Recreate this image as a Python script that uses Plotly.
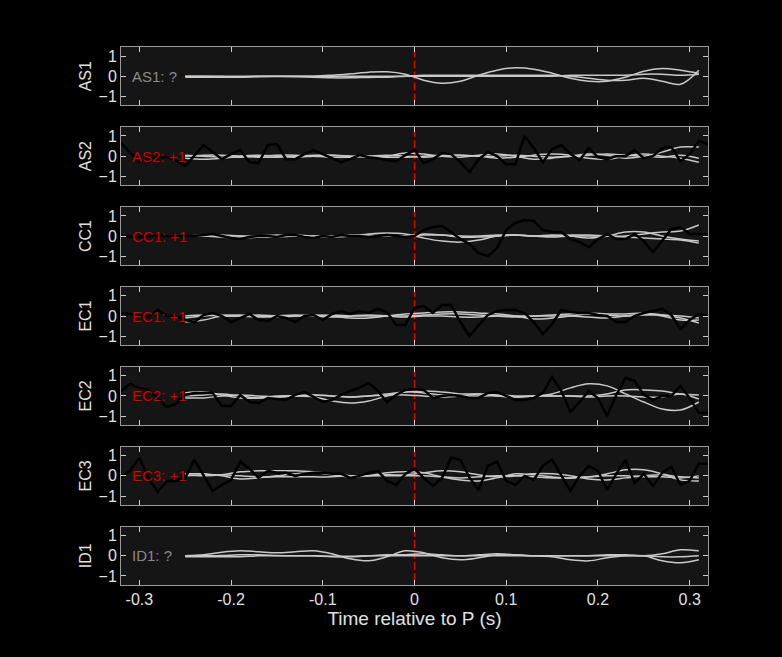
import plotly.graph_objects as go
from plotly.subplots import make_subplots

stations = ["AS1", "AS2", "CC1", "EC1", "EC2", "EC3", "ID1"]
labels = ["AS1: ?", "AS2: +1", "CC1: +1", "EC1: +1", "EC2: +1", "EC3: +1", "ID1: ?"]
label_colors = ["#8a8a8a", "#cc0000", "#cc0000", "#cc0000", "#cc0000", "#cc0000", "#8a8a8a"]

# black (reference) traces, sampled every 0.01 s from -0.32 to 0.32
black_t = [round(-0.32 + 0.01 * i, 2) for i in range(65)]
black = {
    "AS2": [0.65, 0.2, -0.3, -0.15, -0.05, -0.05, -0.2, -0.5, 0.05, 0.55, 0.2, -0.15, 0.1, 0.3, -0.3, -0.35,
            0.55, 0.6, -0.15, -0.15, 0.1, 0.3, 0.1, -0.1, -0.3, -0.15, 0.05, -0.05, -0.1, -0.2, -0.25, 0.05,
            0.3, -0.35, -0.15, 0.15, 0.1, -0.3, -0.8, -0.15, 0.2, 0.0, -0.4, -0.4, 1.0, 0.4, -0.3, 0.35,
            0.55, 0.1, -0.2, 0.4, -0.05, -0.15, 0.0, 0.0, 0.3, -0.1, 0.0, 0.4, 0.45, -0.25, 0.1, 0.75, 0.6],
    "CC1": [0.0, -0.02, -0.05, 0.0, 0.05, 0.0, -0.05, 0.0, 0.0, 0.05, 0.1, 0.0, -0.1, -0.15, -0.05, 0.0,
            0.0, -0.05, 0.05, 0.05, -0.05, -0.1, 0.0, -0.05, 0.05, 0.0, 0.0, -0.05, 0.0, 0.05, 0.0, -0.05,
            0.0, 0.3, 0.45, 0.5, 0.2, -0.15, -0.4, -0.85, -1.0, -0.6, 0.3, 0.65, 0.8, 0.75, 0.3, 0.2,
            0.2, -0.15, -0.3, -0.55, -0.15, 0.1, -0.15, -0.15, 0.1, -0.25, -0.8, -0.25, 0.35, 0.45, 0.1, 0.1, 0.1],
    "EC1": [0.15, 0.1, 0.0, -0.05, 0.3, 0.0, 0.0, -0.2, -0.3, 0.05, 0.15, 0.0, -0.3, -0.1, 0.1, -0.2,
            -0.25, 0.0, -0.1, -0.3, 0.0, 0.05, -0.2, 0.1, 0.25, 0.1, 0.25, 0.15, 0.35, 0.2, -0.45, -0.45,
            0.4, 0.5, 0.15, 0.55, 0.55, -0.3, -1.0, -0.45, 0.05, 0.25, 0.3, 0.3, 0.15, -0.3, -0.9, -0.4,
            0.3, 0.2, 0.15, 0.15, 0.05, 0.0, -0.3, -0.3, 0.0, 0.15, 0.25, 0.35, 0.05, -0.65, -0.2, 0.1, 0.0],
    "EC2": [0.25, 0.6, 0.4, 0.3, -0.1, -0.55, -0.4, 0.05, 0.15, 0.15, 0.15, -0.5, -0.5, 0.05, -0.3, -0.35,
            -0.1, -0.15, -0.2, 0.05, 0.2, -0.05, -0.3, -0.2, 0.05, 0.25, 0.4, 0.65, 0.25, -0.3, 0.05, 0.3,
            0.35, 0.3, -0.1, 0.0, 0.05, 0.0, -0.1, -0.1, 0.15, 0.2, 0.0, -0.2, -0.2, -0.1, 0.15, 0.95,
            0.25, -0.8, -0.3, 0.25, -0.1, -1.0, 0.05, 0.9, 0.75, 0.05, -0.2, 0.0, 0.0, 0.5, -0.1, -0.85, -0.85],
    "EC3": [-0.05, 0.25, 0.9, -0.1, -0.8, -0.25, -0.25, -0.1, 0.8, 0.0, -0.75, -0.45, -0.2, 0.7, 0.35, -0.1,
            0.25, 0.15, 0.15, 0.0, 0.1, 0.15, 0.15, 0.1, 0.1, -0.1, 0.0, 0.15, 0.25, -0.25, -0.45, 0.1,
            0.35, -0.1, -0.5, -0.1, 0.9, 0.8, -0.1, -0.7, 0.5, 0.7, -0.25, -0.45, 0.0, -0.2, 0.5, 0.8,
            0.0, -0.75, 0.0, 0.5, 0.25, -0.7, 0.1, 0.8, -0.35, 0.1, -0.5, 0.15, 0.45, -0.45, -0.25, 0.6, 0.6],
}

# grey (template) traces, sampled every 0.02 s from -0.25 to 0.31
gray_t = [round(-0.25 + 0.02 * i, 2) for i in range(29)]
gray = {
    "AS1": [
        [0, 0, -0.02, -0.03, 0, 0, 0, 0, 0.05, 0.12, 0.2, 0.22, 0.1, -0.2, -0.35, -0.25, 0.05, 0.3, 0.42, 0.35, 0.15, -0.1, -0.25, -0.25, -0.05, 0.25, 0.38, 0.3, 0.15],
        [-0.05, -0.05, -0.05, -0.05, -0.03, -0.02, -0.03, -0.05, -0.08, -0.08, -0.06, -0.05, 0, 0.05, 0.05, 0.05, 0.05, 0.05, 0.05, 0.05, 0.05, 0, -0.1, -0.2, -0.2, -0.1, -0.25, -0.4, 0.3],
        [0, 0, 0, 0, 0, 0, 0, 0, 0, 0, 0, 0, 0, 0, 0, 0, 0, 0, 0, 0, 0, 0.05, 0.05, 0.05, 0.05, 0.1, 0.1, 0.05, 0.1],
    ],
    "AS2": [
        [-0.1, -0.15, -0.1, 0, 0.05, 0, -0.05, 0, 0.05, 0, -0.05, 0, 0.15, 0.1, 0, -0.05, 0.05, 0.1, 0, -0.15, -0.1, 0, 0.1, 0.05, -0.1, 0, 0.2, 0.45, 0.45],
        [0.05, 0, -0.05, -0.05, 0, 0.05, 0.05, 0, -0.05, -0.05, 0, 0.05, 0, -0.05, 0, 0.05, 0, -0.1, -0.05, 0.05, 0.1, 0.05, -0.1, -0.15, 0, 0.1, 0, -0.1, -0.3],
        [0, 0.05, 0.05, 0, -0.05, -0.05, 0, 0.05, 0.05, 0, 0, -0.05, -0.05, 0, 0.05, 0.05, 0, 0, 0.05, 0, -0.05, 0, 0.05, 0.1, 0.05, 0, -0.05, 0.05, -0.1],
    ],
    "CC1": [
        [0, 0, -0.05, -0.1, -0.05, 0, 0.05, 0, -0.05, 0, 0.1, 0.15, 0.1, -0.1, -0.25, -0.3, -0.2, 0, 0.05, 0, 0.05, 0, -0.1, 0, 0.2, 0.2, 0, -0.15, -0.25],
        [0, 0.05, 0.05, 0, 0, 0.05, 0, -0.05, 0, 0.05, 0.05, 0, 0, 0.05, 0.05, 0, 0, 0.05, 0.05, 0, 0, 0.05, 0.05, 0, 0, 0.1, 0.2, 0.25, 0.55],
        [0, 0, 0, 0, -0.05, -0.05, 0, 0, 0, 0, 0, 0, 0, 0.1, 0.05, -0.05, -0.05, 0, 0.05, 0, -0.05, 0, 0, 0, -0.05, -0.1, -0.15, -0.2, -0.35],
    ],
    "EC1": [
        [-0.3, -0.2, 0, 0.05, 0, -0.05, 0, 0.05, 0, -0.1, -0.1, 0, 0.1, 0.15, 0.2, 0.2, 0.15, 0.1, 0, -0.15, -0.1, 0, 0.1, 0.05, 0, 0.05, 0.05, -0.1, -0.35],
        [0, 0.05, 0, 0, 0.05, 0, 0, 0, 0.05, 0, 0, 0, 0, 0.05, 0.1, 0.1, 0.05, 0, -0.05, 0, 0.05, 0.1, 0.15, 0.1, 0.1, 0.15, 0.05, 0, -0.1],
        [-0.1, 0, 0.05, 0, -0.05, 0, 0.05, 0, -0.05, 0, 0.05, 0, -0.05, 0, 0, -0.05, -0.05, 0, 0, 0, 0, 0, -0.05, -0.1, 0, 0.1, 0, -0.2, -0.2],
    ],
    "EC2": [
        [0.15, 0.2, 0.05, -0.1, -0.1, 0, 0, -0.05, -0.25, -0.35, -0.25, 0, 0.2, 0.15, 0.05, 0, 0, 0, -0.05, 0, 0.1, 0.4, 0.6, 0.5, 0.1, -0.3, -0.65, -0.7, -0.3],
        [-0.1, -0.1, 0, 0.05, 0, -0.05, 0, 0.05, 0, -0.05, 0, 0.1, 0.2, 0.25, 0.2, 0.1, 0.1, 0.05, 0, 0, 0, 0, 0, 0.1, 0.3, 0.3, 0.25, 0.1, 0.05],
        [0, 0.05, 0.1, 0, -0.1, -0.05, 0, 0.05, 0, -0.05, 0, 0.05, 0.05, 0, -0.05, 0, 0.1, 0, -0.05, 0, 0, 0, -0.05, 0, 0, -0.05, -0.05, 0.1, -0.15],
    ],
    "EC3": [
        [0.1, 0.1, 0, -0.15, -0.1, 0, 0.1, 0.15, 0.05, -0.05, 0, 0.15, 0.2, 0.15, -0.05, -0.2, -0.25, -0.1, 0.1, 0.05, -0.05, -0.1, -0.05, 0.1, 0.3, 0.3, 0.1, -0.2, -0.25],
        [0.05, 0, 0.05, 0.2, 0.25, 0.25, 0.25, 0.2, 0.1, 0, 0, 0.05, 0.05, 0.15, 0.25, 0.2, 0.05, -0.05, 0, 0.1, 0.1, 0, -0.15, -0.2, -0.1, 0, 0.05, -0.05, -0.1],
        [0, 0.05, 0.05, 0, -0.05, -0.05, -0.05, -0.05, -0.05, 0, 0, 0, 0, 0, -0.05, -0.1, -0.05, 0, 0, -0.05, -0.1, -0.1, -0.05, 0, 0, -0.05, -0.05, -0.1, 0],
    ],
    "ID1": [
        [0, 0.05, 0.18, 0.25, 0.2, 0.15, 0.2, 0.25, 0.1, -0.15, -0.25, -0.05, 0.25, 0.15, -0.1, -0.2, -0.1, 0.05, 0.05, 0, -0.05, -0.2, -0.25, -0.1, 0, 0, -0.25, -0.35, -0.2],
        [0, 0, 0.02, 0.05, 0.05, 0.02, 0, 0, -0.05, -0.05, 0, 0.05, 0.05, 0.1, 0.05, 0, 0.05, 0.1, 0.05, 0, 0, 0, 0, 0.05, 0.05, 0, 0.1, 0.3, 0.25],
        [-0.05, -0.05, -0.05, -0.05, 0, 0, 0, 0, -0.02, -0.02, 0, 0, 0, 0, 0, 0, 0, 0, 0, 0, 0, 0, 0, 0, 0, 0, -0.05, -0.05, 0],
    ],
}

x_ticks = [-0.3, -0.2, -0.1, 0, 0.1, 0.2, 0.3]
x_tick_text = ["-0.3", "-0.2", "-0.1", "0", "0.1", "0.2", "0.3"]
y_ticks = [-1, 0, 1]

fig = make_subplots(rows=7, cols=1, shared_xaxes=True, vertical_spacing=0.04)

for i, st in enumerate(stations):
    row = i + 1
    fig.add_annotation(x=-0.31, y=0, text=labels[i], showarrow=False, xanchor="left",
                       font=dict(color=label_colors[i], size=15), row=row, col=1)
    fig.add_trace(go.Scatter(x=[0, 0], y=[-1.25, 1.25], mode="lines",
                             line=dict(color="#dd0000", width=1.5, dash="8px,3px")), row=row, col=1)
    for g in gray[st]:
        fig.add_trace(go.Scatter(x=gray_t, y=g, mode="lines",
                                 line=dict(color="#c8c8c8", width=1.5, shape="spline")), row=row, col=1)
    if st in black:
        fig.add_trace(go.Scatter(x=black_t, y=black[st], mode="lines",
                                 line=dict(color="#000000", width=2.5)), row=row, col=1)
    fig.update_yaxes(title_text=st, range=[-1.45, 1.45], tickvals=y_ticks, row=row, col=1)

fig.update_xaxes(range=[-0.32, 0.32], tickvals=x_ticks, ticktext=x_tick_text,
                 ticks="inside", ticklen=5, tickcolor="#cccccc", showline=True, linecolor="#999999",
                 mirror="ticks", showgrid=False, zeroline=False, tickfont=dict(size=16, color="#e0e0e0"))
fig.update_xaxes(title_text="Time relative to P (s)", title_font=dict(size=19, color="#e0e0e0"),
                 title_standoff=4, row=7, col=1)
fig.update_yaxes(ticks="inside", ticklen=5, tickcolor="#cccccc", showline=True, linecolor="#999999",
                 mirror="ticks", showgrid=False, zeroline=False, tickfont=dict(size=16, color="#e0e0e0"),
                 title_font=dict(size=16, color="#e0e0e0"), title_standoff=2)

fig.update_layout(
    width=782, height=657, showlegend=False,
    paper_bgcolor="#000000", plot_bgcolor="#151515",
    margin=dict(l=121, r=74, t=47, b=72),
    font=dict(family="Liberation Sans, Arial, sans-serif"),
)

fig.write_html("out.html", config={"displayModeBar": False},
               post_script="document.body.style.margin='0';document.body.style.background='#000';")
